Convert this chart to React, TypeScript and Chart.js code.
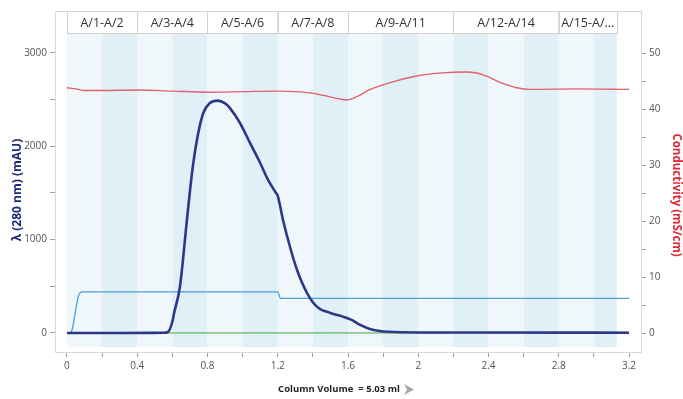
import React, { useEffect, useRef } from "react";
import { Chart, registerables } from "chart.js";

Chart.register(...registerables);

// ---- data ----
const uvCV = [0, 0.3, 0.55, 0.575, 0.6, 0.61, 0.643, 0.683, 0.712, 0.74, 0.776, 0.814, 0.86, 0.9, 0.928, 0.985, 1.042, 1.1, 1.145, 1.19, 1.2, 1.23, 1.27, 1.31, 1.367, 1.424, 1.5, 1.57, 1.62, 1.67, 1.72, 1.78, 1.9, 2.2, 2.8, 3.2];
const uvValues = [0, 0, 2, 10, 120, 214, 493, 1210, 1714, 2068, 2357, 2464, 2490, 2460, 2410, 2250, 2036, 1821, 1640, 1500, 1470, 1210, 921, 675, 428, 280, 214, 175, 140, 86, 45, 21, 8, 5, 4, 3];

const condCV = [0, 0.05, 0.1, 0.2, 0.4, 0.6, 0.8, 1.0, 1.2, 1.3, 1.4, 1.48, 1.55, 1.59, 1.65, 1.72, 1.86, 1.99, 2.12, 2.28, 2.37, 2.47, 2.56, 2.64, 2.9, 3.2];
const condValues = [43.8, 43.6, 43.3, 43.3, 43.4, 43.2, 43.0, 43.1, 43.2, 43.1, 42.8, 42.3, 41.8, 41.6, 42.2, 43.4, 44.9, 45.9, 46.4, 46.6, 46.1, 44.7, 43.8, 43.5, 43.6, 43.5];

const concCV = [0.02, 0.03, 0.05, 0.065, 0.085, 1.2, 1.215, 3.2];
const concValues = [0, 40, 250, 390, 440, 440, 370, 370];

const baseCV = [0, 3.2];
const baseValues = [0, 0];

const fractionEdges = [0, 0.2, 0.4, 0.6, 0.8, 1.0, 1.2, 1.4, 1.6, 1.8, 2.0, 2.2, 2.4, 2.6, 2.8, 3.0, 3.13];
const headerLabels = ["A/1-A/2", "A/3-A/4", "A/5-A/6", "A/7-A/8", "A/9-A/11", "A/12-A/14", "A/15-A/..."];
const headerEdges = [0, 0.4, 0.8, 1.2, 1.6, 2.2, 2.8, 3.13];

const xTickValues = [0, 0.2, 0.4, 0.6, 0.8, 1.0, 1.2, 1.4, 1.6, 1.8, 2.0, 2.2, 2.4, 2.6, 2.8, 3.0, 3.2];
const xTickLabels = ["0", "", "0.4", "", "0.8", "", "1.2", "", "1.6", "", "2", "", "2.4", "", "2.8", "", "3.2"];
const leftTickValues = [0, 500, 1000, 1500, 2000, 2500, 3000];
const leftTickLabels = ["0", "", "1000", "", "2000", "", "3000"];
const rightTickValues = [0, 5, 10, 15, 20, 25, 30, 35, 40, 45, 50];
const rightTickLabels = ["0", "", "10", "", "20", "", "30", "", "40", "", "50"];

const leftTitle = "λ (280 nm) (mAU)";
const rightTitle = "Conductivity (mS/cm)";
const xTitle = "Column Volume  = 5.03 ml";

const FONT = "'Open Sans', 'Noto Sans', sans-serif";

const pts = (xs: number[], ys: number[]) => xs.map((x, i) => ({ x, y: ys[i] }));

const decorPlugin = {
  id: "decor",
  beforeDatasetsDraw(chart: any) {
    const { ctx, chartArea, scales } = chart;
    const xs = scales.x;
    const headerH = 22;
    const top = chartArea.top;
    ctx.save();
    // stripes
    for (let i = 0; i < fractionEdges.length - 1; i++) {
      const x0 = xs.getPixelForValue(fractionEdges[i]);
      const x1 = xs.getPixelForValue(fractionEdges[i + 1]);
      ctx.fillStyle = i % 2 === 0 ? "#f0f7fb" : "#e1eff6";
      ctx.fillRect(x0, top + headerH, x1 - x0, chartArea.bottom - 5 - (top + headerH));
    }
    // header boxes
    ctx.font = `12.5px ${FONT}`;
    ctx.textAlign = "center";
    ctx.textBaseline = "middle";
    for (let i = 0; i < headerLabels.length; i++) {
      const x0 = xs.getPixelForValue(headerEdges[i]);
      const x1 = xs.getPixelForValue(headerEdges[i + 1]);
      ctx.fillStyle = "#ffffff";
      ctx.fillRect(x0, top, x1 - x0, headerH);
      ctx.strokeStyle = "#d2d2d2";
      ctx.lineWidth = 1;
      ctx.strokeRect(Math.round(x0) + 0.5, top + 0.5, Math.round(x1 - x0), headerH);
      ctx.fillStyle = "#333333";
      ctx.fillText(headerLabels[i], (x0 + x1) / 2, top + headerH / 2 + 1);
    }
    // plot border
    ctx.strokeStyle = "#d8d8d8";
    ctx.strokeRect(Math.round(chartArea.left) + 0.5, Math.round(chartArea.top) + 0.5, Math.round(chartArea.right - chartArea.left), Math.round(chartArea.bottom - chartArea.top));
    ctx.restore();
  },
  afterDraw(chart: any) {
    const { ctx } = chart;
    ctx.save();
    // left title
    ctx.font = `bold 12px ${FONT}`;
    ctx.textAlign = "center";
    ctx.textBaseline = "middle";
    ctx.fillStyle = "#1f2a7c";
    ctx.translate(18, 190);
    ctx.rotate(-Math.PI / 2);
    ctx.fillText(leftTitle, 0, 0);
    ctx.restore();
    ctx.save();
    ctx.font = `bold 11.5px ${FONT}`;
    ctx.textAlign = "center";
    ctx.textBaseline = "middle";
    ctx.fillStyle = "#e0262e";
    ctx.translate(676, 195);
    ctx.rotate(Math.PI / 2);
    ctx.fillText(rightTitle, 0, 0);
    ctx.restore();
    ctx.save();
    ctx.font = `bold 9.5px ${FONT}`;
    ctx.textAlign = "center";
    ctx.textBaseline = "middle";
    ctx.fillStyle = "#222222";
    ctx.fillText(xTitle, 339, 389);
    // arrow
    ctx.fillStyle = "#a8a8a8";
    ctx.beginPath();
    ctx.moveTo(404, 384);
    ctx.lineTo(414, 389.5);
    ctx.lineTo(404, 395);
    ctx.lineTo(407, 389.5);
    ctx.closePath();
    ctx.fill();
    ctx.restore();
  },
};

export default function App() {
  const ref = useRef<HTMLCanvasElement | null>(null);
  useEffect(() => {
    if (!ref.current) return;
    const tickFont = { family: FONT, size: 10 };
    const chart = new Chart(ref.current, {
      type: "line",
      data: {
        datasets: [
          {
            label: "UV",
            data: pts(uvCV, uvValues),
            borderColor: "#2e3888",
            borderWidth: 2.6,
            pointRadius: 0,
            cubicInterpolationMode: "monotone",
            yAxisID: "y",
          },
          {
            label: "Conductivity",
            data: pts(condCV, condValues),
            borderColor: "#e2616b",
            borderWidth: 1.4,
            pointRadius: 0,
            cubicInterpolationMode: "monotone",
            yAxisID: "y2",
          },
          {
            label: "Conc",
            data: pts(concCV, concValues),
            borderColor: "#4a9fe0",
            borderWidth: 1.3,
            pointRadius: 0,
            cubicInterpolationMode: "monotone",
            yAxisID: "y",
          },
          {
            label: "Baseline",
            data: pts(baseCV, baseValues),
            borderColor: "#45a845",
            borderWidth: 1,
            pointRadius: 0,
            yAxisID: "y",
          },
        ],
      } as any,
      options: {
        animation: false,
        responsive: false,
        maintainAspectRatio: false,
        layout: { padding: { top: 11, left: 0, right: 0, bottom: 0 } },
        plugins: { legend: { display: false }, tooltip: { enabled: false } },
        scales: {
          x: {
            type: "linear",
            min: -0.068,
            max: 3.268,
            afterBuildTicks: (axis: any) => {
              axis.ticks = xTickValues.map((v) => ({ value: v }));
            },
            afterFit: (axis: any) => {
              axis.height = 47;
            },
            ticks: {
              callback: (_v: any, i: number) => xTickLabels[i],
              font: tickFont,
              color: "#555555",
              maxRotation: 0,
              autoSkip: false,
              padding: 3,
            },
            grid: { drawOnChartArea: false, drawTicks: true, tickLength: 5, color: "#a0a0a0" },
            border: { color: "#cfcfcf" },
          },
          y: {
            type: "linear",
            position: "left",
            min: -204,
            max: 3450,
            afterBuildTicks: (axis: any) => {
              axis.ticks = leftTickValues.map((v) => ({ value: v }));
            },
            afterFit: (axis: any) => {
              axis.width = 55;
            },
            ticks: {
              callback: (_v: any, i: number) => leftTickLabels[i],
              font: tickFont,
              color: "#555555",
              autoSkip: false,
              padding: 3,
            },
            grid: { drawOnChartArea: false, drawTicks: true, tickLength: 5, color: "#a0a0a0" },
            border: { color: "#cfcfcf" },
          },
          y2: {
            type: "linear",
            position: "right",
            min: -3.39,
            max: 57.5,
            afterBuildTicks: (axis: any) => {
              axis.ticks = rightTickValues.map((v) => ({ value: v }));
            },
            afterFit: (axis: any) => {
              axis.width = 42;
            },
            ticks: {
              callback: (_v: any, i: number) => rightTickLabels[i],
              font: tickFont,
              color: "#555555",
              autoSkip: false,
              padding: 3,
            },
            grid: { drawOnChartArea: false, drawTicks: true, tickLength: 5, color: "#a0a0a0" },
            border: { color: "#cfcfcf" },
          },
        },
      } as any,
      plugins: [decorPlugin],
    });
    return () => chart.destroy();
  }, []);

  return (
    <div style={{ position: "fixed", left: 0, top: 0, width: 683, height: 399, background: "#ffffff" }}>
      <canvas ref={ref} width={683} height={399} style={{ width: 683, height: 399, display: "block" }} />
    </div>
  );
}
